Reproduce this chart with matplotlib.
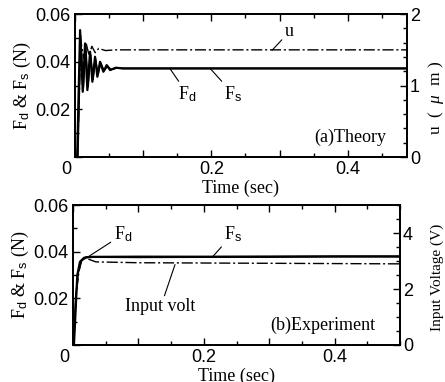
import matplotlib
matplotlib.use("Agg")
from matplotlib import pyplot as plt
from matplotlib.ticker import MultipleLocator, FixedLocator, FuncFormatter
from matplotlib.transforms import ScaledTranslation

plt.rcParams["font.family"] = "Liberation Serif"
plt.rcParams["mathtext.fontset"] = "custom"
plt.rcParams["mathtext.rm"] = "Liberation Serif"
plt.rcParams["mathtext.sf"] = "Liberation Sans"
plt.rcParams["mathtext.it"] = "Liberation Serif:italic"

# ---- (a) theory: forces in N, displacement u in micro-m ----
t_fd_theory = [0.0, 0.0035, 0.0078, 0.0117, 0.0151, 0.0185, 0.0224, 0.0258, 0.0297,
               0.0331, 0.0370, 0.0419, 0.0468, 0.0517, 0.060, 0.070, 0.487]
fd_theory = [0.0, 0.0, 0.0533, 0.0274, 0.0477, 0.0281, 0.0442, 0.0316, 0.0421,
             0.0337, 0.0400, 0.0358, 0.0386, 0.0365, 0.0375, 0.0372, 0.0372]
t_fs_theory = [0.0, 0.0045, 0.0085, 0.0125, 0.0160, 0.0195, 0.0232, 0.0266, 0.0304,
               0.0340, 0.0380, 0.0430, 0.0480, 0.0530, 0.062, 0.072, 0.487]
fs_theory = [0.0, 0.0, 0.0510, 0.0290, 0.0465, 0.0295, 0.0430, 0.0325, 0.0412,
             0.0345, 0.0395, 0.0362, 0.0382, 0.0367, 0.0374, 0.0372, 0.0372]
t_u_theory = [0.0, 0.004, 0.009, 0.013, 0.017, 0.021, 0.025, 0.030, 0.035, 0.045,
              0.060, 0.487]
u_theory = [0.0, 0.0, 1.62, 1.38, 1.58, 1.42, 1.55, 1.46, 1.52, 1.49, 1.50, 1.50]

# ---- (b) experiment: forces in N, input voltage in V ----
t_fd_exp = [0.0, 0.0015, 0.0066, 0.0107, 0.0168, 0.030, 0.10, 0.20, 0.30, 0.40, 0.50]
fd_exp = [0.0, 0.0, 0.0300, 0.0357, 0.0374, 0.0378, 0.0377, 0.0378, 0.0378, 0.0379, 0.0379]
t_fs_exp = [0.0, 0.001, 0.004, 0.008, 0.013, 0.020, 0.10, 0.20, 0.30, 0.40, 0.50]
fs_exp = [0.0, 0.0, 0.020, 0.031, 0.036, 0.0378, 0.0380, 0.0379, 0.0380, 0.0381, 0.0381]
t_volt_exp = [0.0, 0.001, 0.005, 0.009, 0.013, 0.020, 0.035, 0.10, 0.30, 0.50]
volt_exp = [0.0, 0.0, 1.8, 2.6, 3.05, 3.1, 2.97, 2.94, 2.92, 2.90]

fig = plt.figure(figsize=(4.45, 3.82), dpi=100)
ax1 = fig.add_axes([0.168, 0.589, 0.747, 0.374])
ax2 = fig.add_axes([0.164, 0.097, 0.735, 0.366])


def style_axes(ax, axr, xmax):
    ax.set_xlim(0, xmax)
    ax.set_ylim(0, 0.06)
    ax.xaxis.set_major_locator(FixedLocator([0, 0.1, 0.2, 0.3, 0.4]))
    ax.xaxis.set_minor_locator(MultipleLocator(0.05))
    ax.xaxis.set_major_formatter(
        FuncFormatter(lambda v, p: "" if round(v, 2) in (0.1, 0.3) else ("0" if v == 0 else f"{v:.1f}")))
    ax.yaxis.set_major_locator(FixedLocator([0, 0.02, 0.04, 0.06]))
    ax.yaxis.set_minor_locator(MultipleLocator(0.01))
    ax.yaxis.set_major_formatter(FuncFormatter(lambda v, p: "" if v == 0 else f"{v:.2f}"))
    ax.tick_params(which="both", direction="in", top=True, right=False, width=1.0)
    ax.tick_params(which="major", length=5, labelsize=13, pad=3)
    ax.tick_params(which="minor", length=3)
    for lab in ax.get_xticklabels() + ax.get_yticklabels():
        lab.set_family("Liberation Sans")
    axr.tick_params(which="both", direction="in", width=1.0)
    axr.tick_params(which="major", length=5, labelsize=13, pad=2)
    axr.tick_params(which="minor", length=3)
    for lab in axr.get_yticklabels():
        lab.set_family("Liberation Sans")
    for a in (ax, axr):
        for s in a.spines.values():
            s.set_linewidth(1.3)
    ax.set_xlabel("Time (sec)", fontsize=13, labelpad=1)
    ax.set_ylabel(r"F$_{\mathsf{d}}$ & F$_{\mathsf{s}}$ (N)", fontsize=13, labelpad=2)
    # the "0" sits a little left of the corner in the original
    lab0 = ax.xaxis.get_major_ticks()[0].label1
    lab0.set_transform(lab0.get_transform() + ScaledTranslation(-6 / 72, 0, fig.dpi_scale_trans))


# ---- panel (a) ----
ax1r = ax1.twinx()
ax1.plot(t_fd_theory, fd_theory, color="black", lw=1.6)
ax1.plot(t_fs_theory, fs_theory, color="black", lw=1.2)
ax1r.plot(t_u_theory, u_theory, color="black", lw=1.0, ls=(0, (8, 2, 1.5, 2)))
ax1r.set_ylim(0, 2)
ax1r.yaxis.set_major_locator(FixedLocator([0, 1, 2]))
ax1r.yaxis.set_minor_locator(MultipleLocator(0.2))
ax1r.set_ylabel(r"u  (  $\mu$  m )", fontsize=12.5)
ax1r.yaxis.set_label_coords(1.056, 0.41)
style_axes(ax1, ax1r, 0.487)

ann = dict(arrowstyle="-", lw=0.8, color="black", shrinkA=0, shrinkB=0)
ax1.annotate("u", xy=(0.289, 0.0448), xytext=(0.314, 0.0525), fontsize=13,
             ha="center", va="center", arrowprops=ann)
ax1.annotate(r"F$_{\mathsf{d}}$", xy=(0.139, 0.0373), xytext=(0.165, 0.0265), fontsize=13,
             ha="center", va="center", arrowprops=ann)
ax1.annotate(r"F$_{\mathsf{s}}$", xy=(0.198, 0.0373), xytext=(0.232, 0.0265), fontsize=13,
             ha="center", va="center", arrowprops=ann)
ax1.text(0.83, 0.14, "(a)Theory", transform=ax1.transAxes, fontsize=13,
         ha="center", va="center")

# ---- panel (b) ----
ax2r = ax2.twinx()
ax2.plot(t_fd_exp, fd_exp, color="black", lw=1.6)
ax2.plot(t_fs_exp, fs_exp, color="black", lw=1.2)
ax2r.plot(t_volt_exp, volt_exp, color="black", lw=1.0, ls=(0, (8, 2, 1.5, 2)))
ax2r.set_ylim(0, 5)
ax2r.yaxis.set_major_locator(FixedLocator([0, 2, 4]))
ax2r.yaxis.set_minor_locator(MultipleLocator(0.5))
ax2r.set_ylabel("Input Voltage (V)", fontsize=11)
ax2r.yaxis.set_label_coords(1.092, 0.48)
style_axes(ax2, ax2r, 0.5)

ax2.annotate(r"F$_{\mathsf{d}}$", xy=(0.023, 0.0378), xytext=(0.076, 0.0474), fontsize=13,
             ha="center", va="center", arrowprops=ann)
ax2.annotate(r"F$_{\mathsf{s}}$", xy=(0.214, 0.038), xytext=(0.244, 0.0475), fontsize=13,
             ha="center", va="center", arrowprops=ann)
ax2.annotate("Input volt", xy=(0.156, 0.0345), xytext=(0.134, 0.0163), fontsize=13,
             ha="center", va="center", arrowprops=ann)
ax2.text(0.765, 0.14, "(b)Experiment", transform=ax2.transAxes, fontsize=13,
         ha="center", va="center")

fig.savefig("out.png", dpi=100)
